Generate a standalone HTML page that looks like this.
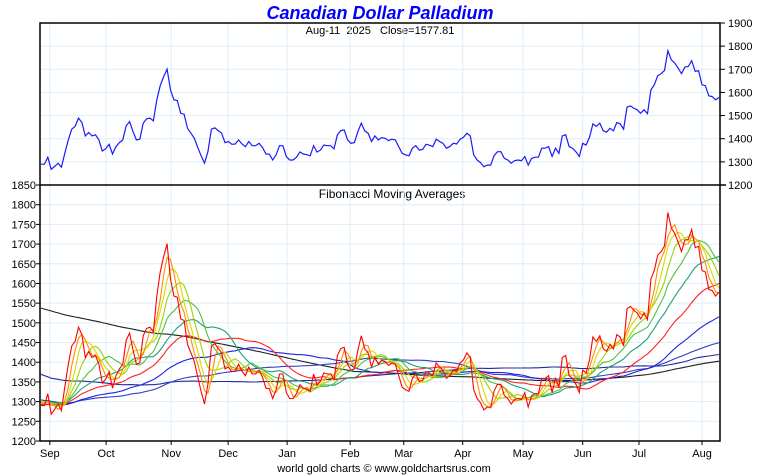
<!DOCTYPE html>
<html><head><meta charset="utf-8"><style>
body{margin:0;background:#fff;}
svg{display:block;font-family:"Liberation Sans",sans-serif;}
</style></head><body>
<svg id="c" width="760" height="475">
<text x="380" y="19" text-anchor="middle" font-size="18" font-weight="bold" font-style="italic" fill="#0000ff">Canadian Dollar Palladium</text>
<text x="380" y="34" text-anchor="middle" font-size="11" fill="#000" xml:space="preserve">Aug-11  2025   Close=1577.81</text>
<text x="392" y="198" text-anchor="middle" font-size="12" fill="#000">Fibonacci Moving Averages</text>
<text x="384" y="472" text-anchor="middle" font-size="11" fill="#000">world gold charts © www.goldchartsrus.com</text>
<g id="grid"></g><g id="series"></g><g id="axes"></g>
</svg>
<script>
const closes=[1290,1290,1320,1268,1280,1294,1277,1337,1395,1441,1453,1489,1470,1412,1427,1412,1417,1395,1347,1357,1376,1334,1366,1383,1395,1456,1474,1431,1395,1398,1467,1486,1489,1477,1568,1629,1669,1701,1611,1568,1565,1510,1506,1445,1424,1402,1363,1326,1294,1344,1441,1447,1435,1424,1383,1388,1376,1377,1395,1377,1366,1388,1370,1370,1380,1362,1334,1333,1308,1330,1370,1370,1323,1308,1308,1320,1343,1334,1331,1326,1370,1342,1351,1373,1370,1370,1356,1417,1435,1438,1395,1380,1383,1431,1467,1434,1424,1388,1412,1395,1405,1402,1392,
1398,1395,1366,1337,1330,1326,1359,1370,1351,1354,1376,1372,1366,1398,1388,1380,1359,1366,1380,1377,1398,1406,1424,1412,1330,1308,1297,1279,1286,1286,1327,1344,1344,1315,1308,1294,1305,1308,1305,1323,1286,1315,1320,1320,1359,1359,1366,1323,1359,1337,1412,1417,1366,1359,1344,1323,1380,1373,1406,1464,1453,1467,1434,1428,1445,1434,1470,1464,1441,1536,1542,1532,1525,1510,1525,1508,1611,1633,1672,1681,1695,1780,1741,1727,1705,1681,1710,1712,1737,1691,1694,1633,1629,1585,1582,1568,1578];
const priorMonthly=[1860,1830,1810,1790,1770,1500,1450,1400,1300,1300,1280,1300];
const periods=[3,5,8,13,21,34,55,89,144,233];
const maColors=["#ff8c00","#d8d800","#a0d000","#50c040","#20a070","#ff2020","#2020e0","#3040c0","#2828a0","#202020"];
const monthLabels=["Sep","Oct","Nov","Dec","Jan","Feb","Mar","Apr","May","Jun","Jul","Aug"];
const monthFrac=[0.013,0.096,0.192,0.276,0.363,0.456,0.535,0.622,0.711,0.799,0.882,0.975];
const topTicks=[1200,1300,1400,1500,1600,1700,1800,1900];
const botTicks=[1200,1250,1300,1350,1400,1450,1500,1550,1600,1650,1700,1750,1800,1850];

const NS="http://www.w3.org/2000/svg";
const L=40,R=720,T=23,MID=185,B=441;
const n=closes.length;
const xs=i=>L+1+i*(R-L-2)/(n-1);
const xf=f=>L+1+f*(R-L-2);
const yTop=v=>MID-(v-1200)*(MID-T)/700;
const yBot=v=>B-(v-1200)*(B-MID)/650;
function el(tag,attrs,parent){const e=document.createElementNS(NS,tag);for(const k in attrs)e.setAttribute(k,attrs[k]);parent.appendChild(e);return e;}
const grid=document.getElementById('grid'),ser=document.getElementById('series'),ax=document.getElementById('axes');
topTicks.forEach(v=>{const g=el('line',{x1:L,x2:R,y1:yTop(v),y2:yTop(v),stroke:'#deedf8','stroke-width':1},grid);
});
botTicks.forEach(v=>{const g=el('line',{x1:L,x2:R,y1:yBot(v),y2:yBot(v),stroke:'#deedf8','stroke-width':1},grid);
});
monthFrac.forEach(f=>{const g=el('line',{x1:xf(f),x2:xf(f),y1:T,y2:B,stroke:'#deedf8','stroke-width':1},grid);
});
let hist=[];priorMonthly.forEach(v=>{for(let k=0;k<20;k++)hist.push(v);});
const all=hist.concat(closes);const off=hist.length;
function pts(arr,yf){return arr.map((v,i)=>xs(i).toFixed(1)+','+yf(v).toFixed(1)).join(' ');}
for(let p=periods.length-1;p>=0;p--){const per=periods[p];const ma=[];
 for(let i=0;i<n;i++){let s=0;for(let k=0;k<per;k++)s+=all[off+i-k];ma.push(s/per);}
 const pl=el('polyline',{points:pts(ma,yBot),fill:'none',stroke:maColors[p],'stroke-width':1.1},ser);
 }
const pr=el('polyline',{points:pts(closes,yBot),fill:'none',stroke:'#ff0000','stroke-width':1.1},ser);

const tp=el('polyline',{points:pts(closes,yTop),fill:'none',stroke:'#1a1aff','stroke-width':1.2},ser);

const fr=el('rect',{x:L,y:T,width:R-L,height:B-T,fill:'none',stroke:'#000','stroke-width':1.5},ax);

const dv=el('line',{x1:L,x2:R+6,y1:MID,y2:MID,stroke:'#000','stroke-width':1.5},ax);

topTicks.forEach(v=>{el('line',{x1:R,x2:R+5,y1:yTop(v),y2:yTop(v),stroke:'#000'},ax);
 const t=el('text',{x:R+8,y:yTop(v)+4,'font-size':11},ax);t.textContent=v;
 });
botTicks.forEach(v=>{el('line',{x1:L-4,x2:L,y1:yBot(v),y2:yBot(v),stroke:'#000'},ax);
 const t=el('text',{x:L-4,y:yBot(v)+4,'font-size':11,'text-anchor':'end'},ax);t.textContent=v;
 });
monthFrac.forEach((f,k)=>{el('line',{x1:xf(f),x2:xf(f),y1:B,y2:B+4,stroke:'#000'},ax);
 const t=el('text',{x:xf(f),y:B+16,'font-size':11,'text-anchor':'middle'},ax);t.textContent=monthLabels[k];
 });
</script>
</body></html>
